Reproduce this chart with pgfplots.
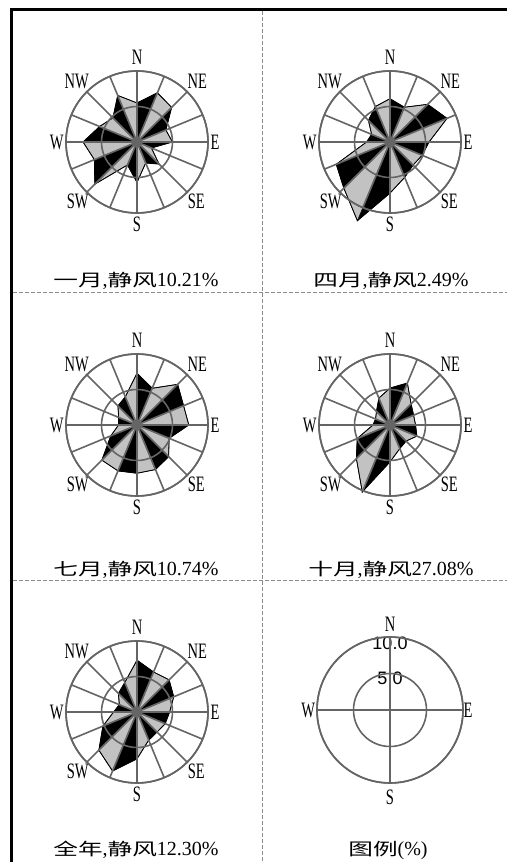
\documentclass[border=0pt]{standalone}
\usepackage{pgfplots}
\pgfplotsset{compat=1.18}
\usepgfplotslibrary{polar}
\usepackage{fontspec}
\setmainfont{Liberation Serif}
\newfontfamily\cjk[FakeStretch=1.45]{Noto Sans CJK SC}
\newfontfamily\dirf[FakeStretch=0.66]{Liberation Serif}
\newfontfamily\lsans{Liberation Sans}
\definecolor{gridc}{HTML}{656565}
\definecolor{fillg}{HTML}{C2C2C2}
\definecolor{dashc}{HTML}{8C8C8C}
\pgfplotsset{
  rose/.style={
    anchor=center, width=142bp, height=142bp, scale only axis,
    ymin=0, ymax=10, clip=false, axis on top,
    xtick={0,22.5,...,337.5}, ytick={5,10},
    xticklabel=\empty, yticklabel=\empty,
    grid=major,
    major grid style={draw=gridc, line width=1.6bp},
    axis line style={draw=gridc, line width=1.6bp},
    major tick length=0pt,
  },
  blk/.style={fill=black, draw=black, line width=0.5bp},
  gry/.style={fill=fillg, draw=black, line width=0.5bp},
  outl/.style={draw=black, line width=0.8bp, fill=none},
}
\tikzset{dirn/.style={font=\fontsize{22bp}{22bp}\selectfont\dirf, inner sep=0pt}}
\newcommand\dirlabels{%
  \node[dirn] at (axis cs:90,11.9) {N};
  \node[dirn] at (axis cs:45,12.0) {NE};
  \node[dirn] at (axis cs:0,11.0) {E};
  \node[dirn] at (axis cs:315,11.8) {SE};
  \node[dirn] at (axis cs:270,11.6) {S};
  \node[dirn] at (axis cs:225,11.8) {SW};
  \node[dirn] at (axis cs:180,11.3) {W};
  \node[dirn] at (axis cs:135,12.0) {NW};
}
\newcommand\ttl[2]{{\fontsize{17bp}{17bp}\selectfont\cjk #1}{\fontsize{20bp}{20bp}\selectfont ,}{\fontsize{17bp}{17bp}\selectfont\cjk 静风}{\fontsize{20bp}{20bp}\selectfont #2\%}}
\begin{document}
\begin{tikzpicture}
\useasboundingbox (0,0) rectangle (507bp,862bp);
% frame and dividers
\draw[black, line width=2.7bp] (11.3bp,0) -- (11.3bp,852.3bp) -- (507bp,852.3bp);
\draw[dashc, line width=1bp, dash pattern=on 4bp off 2bp] (262bp,851bp) -- (262bp,0);
\draw[dashc, line width=1bp, dash pattern=on 4bp off 2bp] (12.6bp,569bp) -- (507bp,569bp);
\draw[dashc, line width=1bp, dash pattern=on 4bp off 2bp] (12.6bp,281bp) -- (507bp,281bp);

% ---------- January ----------
\begin{polaraxis}[rose, at={(137bp,720bp)}]
\addplot[blk] coordinates {(0,0) (90,5.5) (67.5,7.5) (0,0) (45,6.9) (22.5,4.4) (0,0) (0,5.0) (337.5,2.2) (0,0) (315,4.4) (292.5,3.2) (0,0) (270,5.7) (247.5,3.5) (0,0) (225,8.4) (202.5,6.5) (0,0) (180,7.6) (157.5,5.7) (0,0) (135,4.8) (112.5,7.1) (0,0)};
\addplot[gry] coordinates {(0,0) (67.5,7.5) (45,6.9) (0,0) (22.5,4.4) (0,5.0) (0,0) (337.5,2.2) (315,4.4) (0,0) (292.5,3.2) (270,5.7) (0,0) (247.5,3.5) (225,8.4) (0,0) (202.5,6.5) (180,7.6) (0,0) (157.5,5.7) (135,4.8) (0,0) (112.5,7.1) (90,5.5) (0,0)};
\addplot[outl] coordinates {(90,5.5) (67.5,7.5) (45,6.9) (22.5,4.4) (0,5.0) (337.5,2.2) (315,4.4) (292.5,3.2) (270,5.7) (247.5,3.5) (225,8.4) (202.5,6.5) (180,7.6) (157.5,5.7) (135,4.8) (112.5,7.1) (90,5.5)};
\dirlabels
\end{polaraxis}

% ---------- April ----------
\begin{polaraxis}[rose, at={(390bp,720bp)}]
\addplot[blk] coordinates {(0,0) (90,6.1) (67.5,5.3) (0,0) (45,7.5) (22.5,8.7) (0,0) (0,5.5) (337.5,4.9) (0,0) (315,4.6) (292.5,5.4) (0,0) (270,7.2) (247.5,12.0) (0,0) (225,9.2) (202.5,8.2) (0,0) (180,3.3) (157.5,2.8) (0,0) (135,4.3) (112.5,5.4) (0,0)};
\addplot[gry] coordinates {(0,0) (67.5,5.3) (45,7.5) (0,0) (22.5,8.7) (0,5.5) (0,0) (337.5,4.9) (315,4.6) (0,0) (292.5,5.4) (270,7.2) (0,0) (247.5,12.0) (225,9.2) (0,0) (202.5,8.2) (180,3.3) (0,0) (157.5,2.8) (135,4.3) (0,0) (112.5,5.4) (90,6.1) (0,0)};
\addplot[outl] coordinates {(90,6.1) (67.5,5.3) (45,7.5) (22.5,8.7) (0,5.5) (337.5,4.9) (315,4.6) (292.5,5.4) (270,7.2) (247.5,12.0) (225,9.2) (202.5,8.2) (180,3.3) (157.5,2.8) (135,4.3) (112.5,5.4) (90,6.1)};
\dirlabels
\end{polaraxis}

% ---------- July ----------
\begin{polaraxis}[rose, at={(137bp,437bp)}]
\addplot[blk] coordinates {(0,0) (90,7.3) (67.5,5.6) (0,0) (45,8.1) (22.5,7.1) (0,0) (0,7.3) (337.5,4.9) (0,0) (315,6.3) (292.5,6.8) (0,0) (270,6.8) (247.5,7.0) (0,0) (225,7.0) (202.5,4.0) (0,0) (180,2.6) (157.5,2.8) (0,0) (135,3.8) (112.5,4.3) (0,0)};
\addplot[gry] coordinates {(0,0) (67.5,5.6) (45,8.1) (0,0) (22.5,7.1) (0,7.3) (0,0) (337.5,4.9) (315,6.3) (0,0) (292.5,6.8) (270,6.8) (0,0) (247.5,7.0) (225,7.0) (0,0) (202.5,4.0) (180,2.6) (0,0) (157.5,2.8) (135,3.8) (0,0) (112.5,4.3) (90,7.3) (0,0)};
\addplot[outl] coordinates {(90,7.3) (67.5,5.6) (45,8.1) (22.5,7.1) (0,7.3) (337.5,4.9) (315,6.3) (292.5,6.8) (270,6.8) (247.5,7.0) (225,7.0) (202.5,4.0) (180,2.6) (157.5,2.8) (135,3.8) (112.5,4.3) (90,7.3)};
\dirlabels
\end{polaraxis}

% ---------- October ----------
\begin{polaraxis}[rose, at={(390bp,437bp)}]
\addplot[blk] coordinates {(0,0) (90,5.2) (67.5,6.4) (0,0) (45,4.2) (22.5,3.6) (0,0) (0,3.6) (337.5,4.1) (0,0) (315,3.2) (292.5,3.6) (0,0) (270,5.2) (247.5,10.2) (0,0) (225,6.7) (202.5,5.0) (0,0) (180,2.4) (157.5,2.2) (0,0) (135,2.7) (112.5,4.1) (0,0)};
\addplot[gry] coordinates {(0,0) (67.5,6.4) (45,4.2) (0,0) (22.5,3.6) (0,3.6) (0,0) (337.5,4.1) (315,3.2) (0,0) (292.5,3.6) (270,5.2) (0,0) (247.5,10.2) (225,6.7) (0,0) (202.5,5.0) (180,2.4) (0,0) (157.5,2.2) (135,2.7) (0,0) (112.5,4.1) (90,5.2) (0,0)};
\addplot[outl] coordinates {(90,5.2) (67.5,6.4) (45,4.2) (22.5,3.6) (0,3.6) (337.5,4.1) (315,3.2) (292.5,3.6) (270,5.2) (247.5,10.2) (225,6.7) (202.5,5.0) (180,2.4) (157.5,2.2) (135,2.7) (112.5,4.1) (90,5.2)};
\dirlabels
\end{polaraxis}

% ---------- Annual ----------
\begin{polaraxis}[rose, at={(137bp,150bp)}]
\addplot[blk] coordinates {(0,0) (90,7.3) (67.5,6.1) (0,0) (45,6.4) (22.5,5.6) (0,0) (0,4.6) (337.5,4.3) (0,0) (315,4.0) (292.5,4.3) (0,0) (270,6.6) (247.5,9.0) (0,0) (225,7.6) (202.5,5.2) (0,0) (180,3.3) (157.5,2.7) (0,0) (135,3.7) (112.5,4.5) (0,0)};
\addplot[gry] coordinates {(0,0) (67.5,6.1) (45,6.4) (0,0) (22.5,5.6) (0,4.6) (0,0) (337.5,4.3) (315,4.0) (0,0) (292.5,4.3) (270,6.6) (0,0) (247.5,9.0) (225,7.6) (0,0) (202.5,5.2) (180,3.3) (0,0) (157.5,2.7) (135,3.7) (0,0) (112.5,4.5) (90,7.3) (0,0)};
\addplot[outl] coordinates {(90,7.3) (67.5,6.1) (45,6.4) (22.5,5.6) (0,4.6) (337.5,4.3) (315,4.0) (292.5,4.3) (270,6.6) (247.5,9.0) (225,7.6) (202.5,5.2) (180,3.3) (157.5,2.7) (135,3.7) (112.5,4.5) (90,7.3)};
\dirlabels
\end{polaraxis}

% ---------- Legend ----------
\begin{polaraxis}[rose, at={(390bp,152bp)}, width=146bp, height=146bp, xtick={0,90,180,270}]
\node[dirn] at (axis cs:90,11.8) {N};
\node[dirn] at (axis cs:0,10.7) {E};
\node[dirn] at (axis cs:270,11.9) {S};
\node[dirn] at (axis cs:180,11.2) {W};
\node[font=\fontsize{18bp}{18bp}\selectfont\lsans, inner sep=0pt] at (axis cs:90,9.2) {10.0};
\node[font=\fontsize{18bp}{18bp}\selectfont\lsans, inner sep=0pt] at (axis cs:90,4.4) {5.0};
\end{polaraxis}

% titles
\node at (136bp,581bp) {\ttl{一月}{10.21}};
\node at (391bp,581bp) {\ttl{四月}{2.49}};
\node at (136bp,292bp) {\ttl{七月}{10.74}};
\node at (391bp,292bp) {\ttl{十月}{27.08}};
\node at (136bp,12bp) {\ttl{全年}{12.30}};
\node at (388bp,12bp) {{\fontsize{17bp}{17bp}\selectfont\cjk 图例}{\fontsize{20bp}{20bp}\selectfont (\%)}};
\end{tikzpicture}
\end{document}
